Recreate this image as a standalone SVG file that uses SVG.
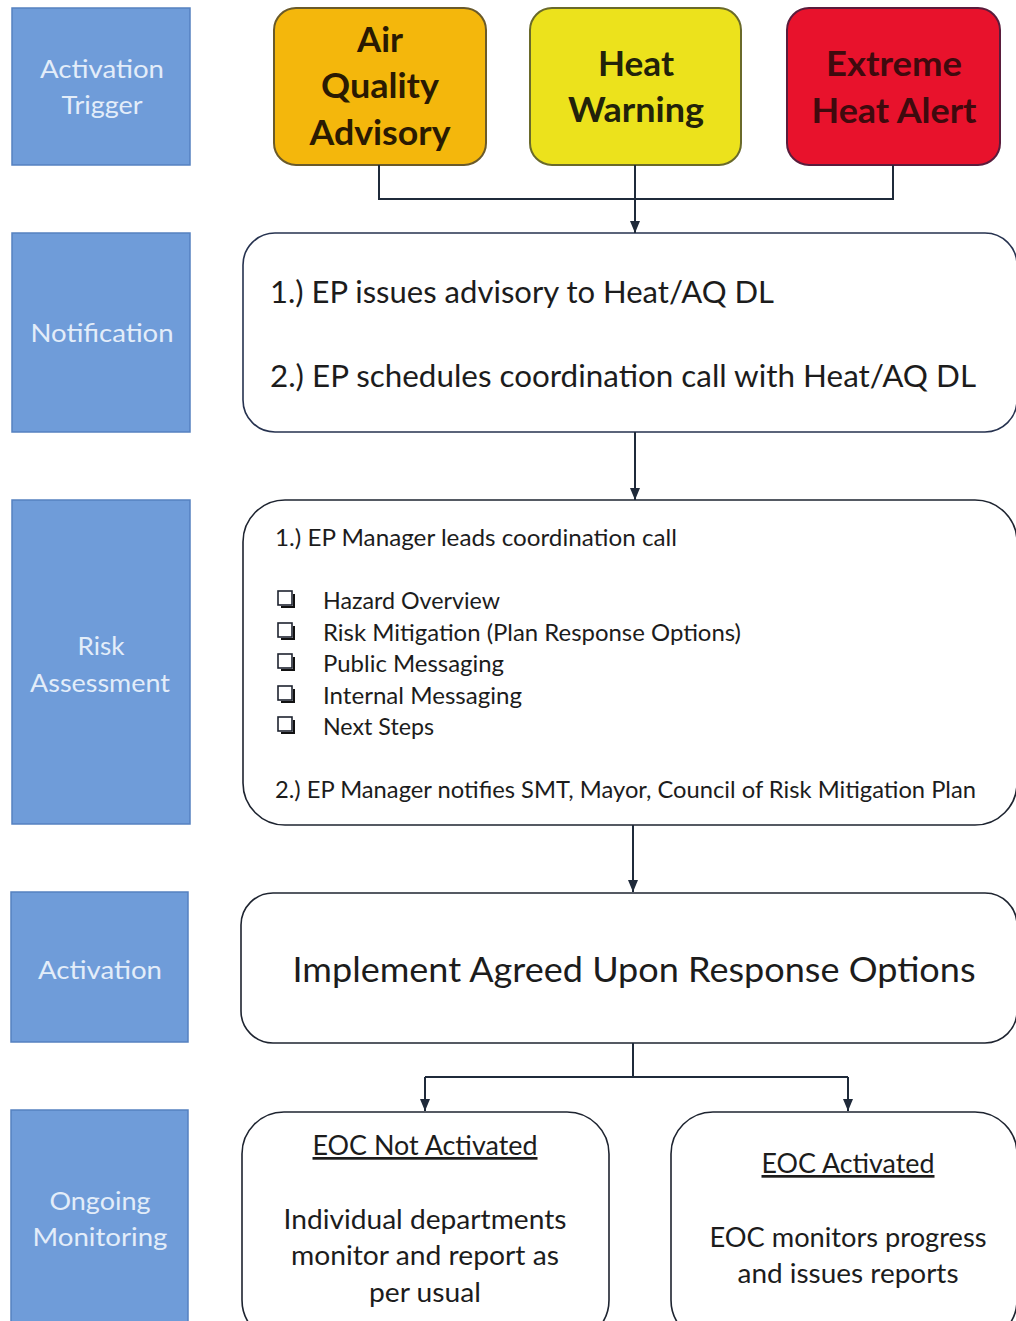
<svg xmlns="http://www.w3.org/2000/svg" width="1016" height="1321" viewBox="0 0 1016 1321">
  <defs>
    <marker id="arrow" markerWidth="12" markerHeight="10" refX="12" refY="5" orient="auto" markerUnits="userSpaceOnUse" viewBox="0 0 12 10">
      <path d="M0,0 L12,5 L0,10 Z" fill="#1f2a3a"/>
    </marker>
    <style>
      .phase rect { fill: #6f9cd9; stroke: #5581c0; stroke-width: 1.5; }
      .phase text { fill: #e3edf9; font-family: Lato, "Open Sans", sans-serif; font-size: 25px; text-anchor: middle; }
      .trigger text { font-family: Lato, "Open Sans", sans-serif; font-weight: bold; font-size: 34px; text-anchor: middle; }
      .step rect { fill: #ffffff; stroke: #1e2430; stroke-width: 1.6; }
      .step text { fill: #1c1c1c; font-family: Lato, "Open Sans", sans-serif; }
      .conn { fill: none; stroke: #1f2a3a; stroke-width: 2; }
      .box { fill: none; stroke: #111; stroke-width: 2; }
    </style>
  </defs>
  <rect x="0" y="0" width="1016" height="1321" fill="#ffffff"/>

  <!-- Phase labels (left column) -->
  <g id="phase-activation-trigger" class="phase">
    <rect x="12" y="8" width="178" height="157"/>
    <text x="102" y="78" textLength="124" lengthAdjust="spacingAndGlyphs">Activation</text>
    <text x="102" y="114" textLength="81" lengthAdjust="spacingAndGlyphs">Trigger</text>
  </g>
  <g id="phase-notification" class="phase">
    <rect x="12" y="233" width="178" height="199"/>
    <text x="102" y="342" textLength="143" lengthAdjust="spacingAndGlyphs">Notification</text>
  </g>
  <g id="phase-risk-assessment" class="phase">
    <rect x="12" y="500" width="178" height="324"/>
    <text x="101" y="655" textLength="47" lengthAdjust="spacingAndGlyphs">Risk</text>
    <text x="100" y="692" textLength="140" lengthAdjust="spacingAndGlyphs">Assessment</text>
  </g>
  <g id="phase-activation" class="phase">
    <rect x="11" y="892" width="177" height="150"/>
    <text x="100" y="979" textLength="124" lengthAdjust="spacingAndGlyphs">Activation</text>
  </g>
  <g id="phase-ongoing-monitoring" class="phase">
    <rect x="11" y="1110" width="177" height="220"/>
    <text x="100" y="1210" textLength="101" lengthAdjust="spacingAndGlyphs">Ongoing</text>
    <text x="100" y="1246" textLength="135" lengthAdjust="spacingAndGlyphs">Monitoring</text>
  </g>

  <!-- Trigger events -->
  <g id="trigger-air-quality" class="trigger">
    <rect x="274" y="8" width="212" height="157" rx="22" fill="#f4b70c" stroke="#6a5a2a" stroke-width="2"/>
    <text x="380" y="52" fill="#2a1a02" textLength="46" lengthAdjust="spacingAndGlyphs">Air</text>
    <text x="380" y="98" fill="#2a1a02" textLength="118" lengthAdjust="spacingAndGlyphs">Quality</text>
    <text x="380" y="145" fill="#2a1a02" textLength="141" lengthAdjust="spacingAndGlyphs">Advisory</text>
  </g>
  <g id="trigger-heat-warning" class="trigger">
    <rect x="530" y="8" width="211" height="157" rx="22" fill="#ece21c" stroke="#6a6a2a" stroke-width="2"/>
    <text x="636" y="76" fill="#22220a" textLength="76" lengthAdjust="spacingAndGlyphs">Heat</text>
    <text x="636" y="122" fill="#22220a" textLength="136" lengthAdjust="spacingAndGlyphs">Warning</text>
  </g>
  <g id="trigger-extreme-heat" class="trigger">
    <rect x="787" y="8" width="213" height="157" rx="22" fill="#e8122c" stroke="#5a1c3c" stroke-width="2"/>
    <text x="894" y="76" fill="#3f0a0e" textLength="136" lengthAdjust="spacingAndGlyphs">Extreme</text>
    <text x="894" y="123" fill="#3f0a0e" textLength="165" lengthAdjust="spacingAndGlyphs">Heat Alert</text>
  </g>

  <!-- Process steps -->
  <g id="step-notification" class="step">
    <rect x="243" y="233" width="774" height="199" rx="32" style="stroke:#26324f"/>
    <text x="270" y="303" font-size="30" textLength="504" lengthAdjust="spacingAndGlyphs">1.) EP issues advisory to Heat/AQ DL</text>
    <text x="270" y="387" font-size="30" textLength="706" lengthAdjust="spacingAndGlyphs">2.) EP schedules coordination call with Heat/AQ DL</text>
  </g>

  <g id="step-risk-assessment" class="step">
    <rect x="243" y="500" width="774" height="325" rx="42"/>
    <text x="275" y="546" font-size="23" textLength="402" lengthAdjust="spacingAndGlyphs">1.) EP Manager leads coordination call</text>
    <g id="checklist">
      <rect class="box" x="278" y="591" width="14" height="14"/>
      <path class="box" d="M281,607 H294 V594" stroke-width="2.5"/>
      <rect class="box" x="278" y="623" width="14" height="14"/>
      <path class="box" d="M281,639 H294 V626" stroke-width="2.5"/>
      <rect class="box" x="278" y="654" width="14" height="14"/>
      <path class="box" d="M281,670 H294 V657" stroke-width="2.5"/>
      <rect class="box" x="278" y="686" width="14" height="14"/>
      <path class="box" d="M281,702 H294 V689" stroke-width="2.5"/>
      <rect class="box" x="278" y="717" width="14" height="14"/>
      <path class="box" d="M281,733 H294 V720" stroke-width="2.5"/>
    </g>
    <text x="323" y="609" font-size="23" textLength="177" lengthAdjust="spacingAndGlyphs">Hazard Overview</text>
    <text x="323" y="641" font-size="23" textLength="418" lengthAdjust="spacingAndGlyphs">Risk Mitigation (Plan Response Options)</text>
    <text x="323" y="672" font-size="23" textLength="181" lengthAdjust="spacingAndGlyphs">Public Messaging</text>
    <text x="323" y="704" font-size="23" textLength="199" lengthAdjust="spacingAndGlyphs">Internal Messaging</text>
    <text x="323" y="735" font-size="23" textLength="111" lengthAdjust="spacingAndGlyphs">Next Steps</text>
    <text x="275" y="798" font-size="23" textLength="701" lengthAdjust="spacingAndGlyphs">2.) EP Manager notifies SMT, Mayor, Council of Risk Mitigation Plan</text>
  </g>

  <g id="step-activation" class="step">
    <rect x="241" y="893" width="776" height="150" rx="32"/>
    <text x="634" y="982" font-size="35" text-anchor="middle" textLength="683" lengthAdjust="spacingAndGlyphs">Implement Agreed Upon Response Options</text>
  </g>

  <g id="step-eoc-not-activated" class="step">
    <rect x="242" y="1112" width="367" height="230" rx="42"/>
    <text x="425" y="1155" font-size="27" text-anchor="middle" text-decoration="underline" textLength="225" lengthAdjust="spacingAndGlyphs">EOC Not Activated</text>
    <text x="425" y="1229" font-size="27" text-anchor="middle" textLength="283" lengthAdjust="spacingAndGlyphs">Individual departments</text>
    <text x="425" y="1265" font-size="27" text-anchor="middle" textLength="268" lengthAdjust="spacingAndGlyphs">monitor and report as</text>
    <text x="425" y="1302" font-size="27" text-anchor="middle" textLength="112" lengthAdjust="spacingAndGlyphs">per usual</text>
  </g>

  <g id="step-eoc-activated" class="step">
    <rect x="671" y="1112" width="346" height="230" rx="42"/>
    <text x="848" y="1173" font-size="27" text-anchor="middle" text-decoration="underline" textLength="173" lengthAdjust="spacingAndGlyphs">EOC Activated</text>
    <text x="848" y="1247" font-size="27" text-anchor="middle" textLength="277" lengthAdjust="spacingAndGlyphs">EOC monitors progress</text>
    <text x="848" y="1283" font-size="27" text-anchor="middle" textLength="221" lengthAdjust="spacingAndGlyphs">and issues reports</text>
  </g>

  <!-- Connectors -->
  <g id="connectors">
    <path class="conn" d="M379,165 V199 H893 V165"/>
    <path class="conn" d="M635,165 V233" marker-end="url(#arrow)"/>
    <path class="conn" d="M635,432 V500" marker-end="url(#arrow)"/>
    <path class="conn" d="M633,825 V892" marker-end="url(#arrow)"/>
    <path class="conn" d="M633,1043 V1077"/>
    <path class="conn" d="M425,1077 H848"/>
    <path class="conn" d="M425,1077 V1111" marker-end="url(#arrow)"/>
    <path class="conn" d="M848,1077 V1111" marker-end="url(#arrow)"/>
  </g>
</svg>
